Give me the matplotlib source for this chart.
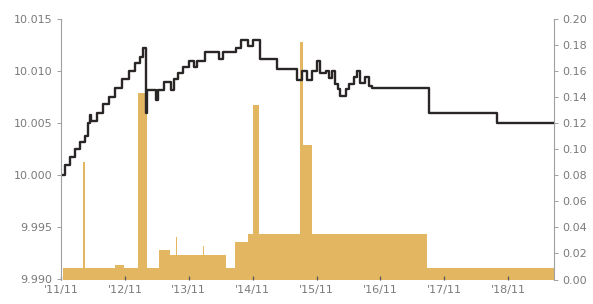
import numpy as np
import matplotlib
matplotlib.use("Agg")
import matplotlib.pyplot as plt

# x values: months since Nov 2011
price_x = [0.41, 0.79, 1.72, 2.66, 3.59, 4.53, 5.09, 5.46, 5.65, 6.77, 7.89, 9.01,
           10.14, 11.45, 12.75, 13.88, 14.81, 15.37, 16.03, 16.21, 17.80, 18.27,
           19.30, 20.61, 21.17, 21.92, 22.85, 23.98, 24.91, 25.47, 26.97, 29.77,
           30.52, 32.95, 33.89, 35.20, 36.13, 37.44, 40.62, 44.36, 45.30, 46.23,
           47.17, 48.10, 48.66, 49.78, 50.34, 50.90, 51.46, 52.03, 52.40, 53.52,
           54.08, 55.02, 55.58, 56.14, 57.07, 57.82, 58.38, 69.04, 81.94]
price_y = [10.0000, 10.0010, 10.0018, 10.0025, 10.0032, 10.0038, 10.0050, 10.0058,
           10.0052, 10.0060, 10.0068, 10.0075, 10.0084, 10.0092, 10.0100, 10.0108,
           10.0114, 10.0122, 10.0060, 10.0082, 10.0072, 10.0082, 10.0090, 10.0082,
           10.0092, 10.0098, 10.0104, 10.0110, 10.0104, 10.0110, 10.0118, 10.0112,
           10.0118, 10.0122, 10.0130, 10.0124, 10.0130, 10.0112, 10.0102, 10.0091,
           10.0100, 10.0091, 10.0100, 10.0110, 10.0098, 10.0100, 10.0093, 10.0100,
           10.0088, 10.0083, 10.0076, 10.0083, 10.0088, 10.0094, 10.0100, 10.0089,
           10.0094, 10.0086, 10.0084, 10.0060, 10.0050]
x_end = 92.61

vol_edges = [0.41, 4.15, 4.53, 10.14, 11.82, 14.44, 16.12, 18.36, 20.42, 21.60,
             21.83, 26.69, 26.87, 31.08, 32.77, 35.20, 36.13, 37.25, 44.92, 45.48,
             47.17, 68.67, 92.61]
vol_values = [0.009, 0.090, 0.009, 0.011, 0.009, 0.143, 0.009, 0.023, 0.0185, 0.033,
              0.0185, 0.026, 0.0185, 0.009, 0.029, 0.035, 0.134, 0.035, 0.182, 0.103,
              0.035, 0.009]

x_ticks = [0, 12, 24, 36, 48, 60, 72, 84]
x_labels = ["'11/11", "'12/11", "'13/11", "'14/11", "'15/11", "'16/11", "'17/11", "'18/11"]
left_ticks = [9.990, 9.995, 10.000, 10.005, 10.010, 10.015]
right_ticks = [0.00, 0.02, 0.04, 0.06, 0.08, 0.10, 0.12, 0.14, 0.16, 0.18, 0.20]

fig = plt.figure(figsize=(5.93, 3.04), dpi=100)
ax = fig.add_axes([61/593, 1-279.5/304, (554-61)/593, (279.5-19)/304])
ax2 = ax.twinx()

bar_color = "#E3B661"
ax2.fill_between(vol_edges, np.append(vol_values, vol_values[-1]), 0,
                 step="post", color=bar_color, linewidth=0)

ax.step(price_x + [x_end], price_y + [price_y[-1]], where="post",
        color="#2a2626", linewidth=1.7)

ax.set_zorder(ax2.get_zorder() + 1)
ax.patch.set_visible(False)

ax.set_xlim(0.41, 92.61)
ax.set_ylim(9.990, 10.015)
ax2.set_ylim(0.0, 0.20)

ax.set_xticks(x_ticks)
ax.set_xticklabels(x_labels)
ax.set_yticks(left_ticks)
ax.set_yticklabels([f"{v:.3f}" for v in left_ticks])
ax2.set_yticks(right_ticks)
ax2.set_yticklabels([f"{v:.2f}" for v in right_ticks])

lab_color = "#7a7a7a"
spine_color = "#a0a0a0"
for a in (ax, ax2):
    for s in ("top", "bottom"):
        a.spines[s].set_visible(False)
ax.spines["right"].set_visible(False)
ax2.spines["left"].set_visible(False)
ax.spines["left"].set_color(spine_color)
ax2.spines["right"].set_color(spine_color)
ax.spines["left"].set_linewidth(0.8)
ax2.spines["right"].set_linewidth(0.8)

ax.tick_params(axis="y", direction="out", length=3, width=0.7, color=spine_color,
               labelsize=8, labelcolor=lab_color, pad=3)
ax2.tick_params(axis="y", direction="out", length=3, width=0.7, color=spine_color,
                labelsize=8, labelcolor=lab_color, pad=3)
ax.tick_params(axis="x", direction="in", length=3, width=0.9, color="#555555",
               labelsize=8, labelcolor=lab_color, pad=4)

fig.savefig("out.png", dpi=100)
